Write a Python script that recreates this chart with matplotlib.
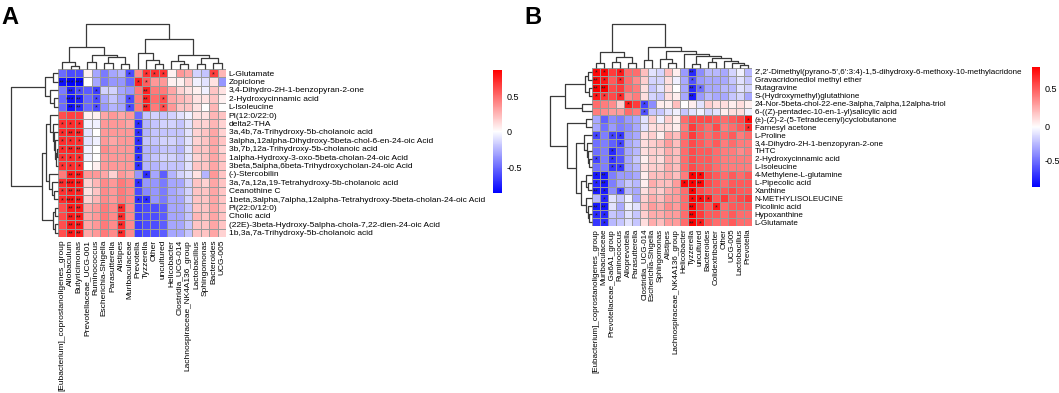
import numpy as np
import matplotlib
matplotlib.use("Agg")
import matplotlib.pyplot as plt
from matplotlib.colors import LinearSegmentedColormap, TwoSlopeNorm
from matplotlib.cm import ScalarMappable

plt.rcParams['font.family'] = ['Liberation Sans', 'DejaVu Sans']

# ---------------- data: panel A ----------------
A_rows = ["L-Glutamate", "Zopiclone", "3,4-Dihydro-2H-1-benzopyran-2-one", "2-Hydroxycinnamic acid",
          "L-Isoleucine", "PI(12:0/22:0)", "delta2-THA", "3a,4b,7a-Trihydroxy-5b-cholanoic acid",
          "3alpha,12alpha-Dihydroxy-5beta-chol-6-en-24-oic Acid", "3b,7b,12a-Trihydroxy-5b-cholanoic acid",
          "1alpha-Hydroxy-3-oxo-5beta-cholan-24-oic Acid", "3beta,5alpha,6beta-Trihydroxycholan-24-oic Acid",
          "(-)-Stercobilin", "3a,7a,12a,19-Tetrahydroxy-5b-cholanoic acid", "Ceanothine C",
          "1beta,3alpha,7alpha,12alpha-Tetrahydroxy-5beta-cholan-24-oic Acid", "PI(22:0/12:0)", "Cholic acid",
          "(22E)-3beta-Hydroxy-5alpha-chola-7,22-dien-24-oic Acid", "1b,3a,7a-Trihydroxy-5b-cholanoic acid"]
A_cols = ["[Eubacterium]_coprostanoligenes_group", "Allobaculum", "Butyricimonas", "Prevotellaceae_UCG-001",
          "Ruminococcus", "Escherichia-Shigella", "Parasutterella", "Alistipes", "Muribaculaceae", "Prevotella",
          "Tyzzerella", "Other", "uncultured", "Helicobacter", "Clostridia_UCG-014",
          "Lachnospiraceae_NK4A136_group", "Lactobacillus", "Sphingomonas", "Bacteroides", "UCG-005"]
A_vals = np.array([
    [-0.50, -0.60, -0.60, 0.05, -0.30, -0.45, -0.30, -0.25, -0.60, 0.40, 0.70, 0.70, 0.70, 0.05, 0.35, 0.30, -0.15, -0.20, 0.65, 0.25],
    [-0.80, -0.85, -0.85, 0.00, -0.30, -0.45, -0.35, -0.35, -0.50, 0.75, 0.55, 0.35, 0.35, 0.05, 0.05, 0.15, -0.05, -0.10, 0.10, -0.35],
    [-0.45, -0.75, -0.60, -0.55, -0.65, -0.15, -0.15, -0.30, -0.35, 0.45, 0.75, 0.45, 0.45, 0.30, 0.15, 0.10, 0.05, -0.05, 0.20, 0.10],
    [-0.50, -0.80, -0.75, -0.50, -0.60, -0.30, -0.20, -0.30, -0.60, 0.45, 0.75, 0.50, 0.60, 0.30, 0.25, 0.20, 0.10, 0.10, 0.20, 0.05],
    [-0.50, -0.80, -0.70, -0.50, -0.60, -0.35, -0.25, -0.30, -0.60, 0.45, 0.75, 0.45, 0.60, 0.35, 0.20, 0.20, 0.10, 0.00, 0.25, 0.00],
    [0.60, 0.65, 0.65, 0.05, 0.05, 0.30, 0.35, 0.30, 0.35, -0.50, -0.20, -0.15, -0.20, -0.15, -0.10, -0.05, 0.10, 0.10, 0.25, 0.20],
    [0.70, 0.72, 0.72, -0.05, -0.05, 0.35, 0.35, 0.35, 0.30, -0.70, -0.25, -0.20, -0.15, -0.15, -0.20, -0.10, 0.15, 0.15, 0.25, 0.15],
    [0.72, 0.75, 0.75, -0.10, 0.00, 0.35, 0.35, 0.35, 0.35, -0.70, -0.25, -0.20, -0.20, -0.20, -0.20, -0.10, 0.15, 0.20, 0.30, 0.15],
    [0.72, 0.72, 0.72, -0.10, -0.05, 0.35, 0.30, 0.35, 0.35, -0.70, -0.20, -0.20, -0.15, -0.15, -0.20, -0.10, 0.15, 0.20, 0.30, 0.20],
    [0.72, 0.75, 0.75, -0.05, 0.00, 0.40, 0.35, 0.35, 0.35, -0.70, -0.25, -0.25, -0.20, -0.20, -0.25, -0.10, 0.20, 0.20, 0.30, 0.15],
    [0.70, 0.72, 0.72, -0.05, 0.00, 0.35, 0.35, 0.35, 0.35, -0.70, -0.25, -0.20, -0.15, -0.15, -0.20, -0.10, 0.15, 0.20, 0.30, 0.20],
    [0.70, 0.72, 0.72, 0.00, 0.05, 0.35, 0.35, 0.35, 0.35, -0.70, -0.25, -0.25, -0.20, -0.20, -0.20, -0.10, 0.20, 0.20, 0.30, 0.20],
    [0.45, 0.78, 0.78, 0.35, 0.35, 0.30, 0.15, 0.35, 0.30, -0.35, -0.70, -0.30, -0.55, -0.25, -0.15, -0.10, 0.10, -0.25, 0.35, 0.20],
    [0.72, 0.80, 0.78, 0.15, 0.25, 0.40, 0.35, 0.45, 0.40, -0.70, -0.35, -0.35, -0.45, -0.30, -0.30, -0.15, 0.20, 0.15, 0.30, 0.20],
    [0.70, 0.75, 0.75, 0.10, 0.20, 0.40, 0.35, 0.45, 0.40, -0.60, -0.40, -0.35, -0.45, -0.30, -0.25, -0.15, 0.20, 0.20, 0.30, 0.20],
    [0.72, 0.80, 0.78, 0.15, 0.25, 0.40, 0.35, 0.45, 0.40, -0.70, -0.70, -0.35, -0.45, -0.30, -0.30, -0.15, 0.20, 0.20, 0.30, 0.20],
    [0.60, 0.78, 0.78, 0.30, 0.35, 0.45, 0.40, 0.72, 0.40, -0.65, -0.60, -0.60, -0.55, -0.30, -0.30, -0.20, 0.20, 0.20, 0.30, 0.20],
    [0.62, 0.78, 0.78, 0.30, 0.35, 0.45, 0.40, 0.72, 0.40, -0.65, -0.60, -0.60, -0.55, -0.30, -0.30, -0.20, 0.25, 0.20, 0.30, 0.20],
    [0.60, 0.78, 0.78, 0.30, 0.35, 0.45, 0.40, 0.72, 0.40, -0.65, -0.60, -0.60, -0.55, -0.30, -0.30, -0.20, 0.20, 0.20, 0.30, 0.20],
    [0.60, 0.78, 0.78, 0.30, 0.35, 0.45, 0.40, 0.72, 0.40, -0.65, -0.60, -0.60, -0.55, -0.30, -0.30, -0.20, 0.20, 0.20, 0.30, 0.15],
])
# significance: digit = number of stars per cell
A_sig = [
    "........1.111.....1.",
    "233......11.........",
    ".21.1.....2.........",
    ".32.1...1.2.1.......",
    ".22.1...1.2.1.......",
    "....................",
    "111......1..........",
    "122......1..........",
    "111......1..........",
    "122......1..........",
    "111......1..........",
    "111......1..........",
    ".22.......1.........",
    "232......1..........",
    "122.................",
    "132......11.........",
    ".22....2............",
    ".22....2............",
    ".22....2............",
    ".22....2............",
]
# trees: [height, left, right], leaves = index in display order
A_col_tree = [44, [22, [7, 0, [3, 1, 2]], [14, [7, 3, 4], [12, [6, 5, 6], [5, 7, 8]]]],
              [29, [16, 9, [9, 10, [5, 11, 12]]], [14, [8, 13, [5, 14, 15]], [11, [5, 16, 17], [6, 18, 19]]]]]
A_row_tree = [48, [13, [5, 0, 1], [8, 2, [4, 3, 4]]],
              [16, [12, [8, 5, [5, 6, [4, 7, [3, 8, [2, [1.5, 9, 10], 11]]]]], [9, 12, [6, 13, [4, 14, 15]]]],
               [5, [3, 16, 17], [3, 18, 19]]]]
A_range = (-0.86, 0.87)

# ---------------- data: panel B ----------------
B_rows = ["2',2'-Dimethyl(pyrano-5',6':3:4)-1,5-dihydroxy-6-methoxy-10-methylacridone",
          "Gravacridonediol methyl ether", "Rutagravine", "S-(Hydroxymethyl)glutathione",
          "24-Nor-5beta-chol-22-ene-3alpha,7alpha,12alpha-triol", "6-((Z)-pentadec-10-en-1-yl)salicylic acid",
          "(±)-(Z)-2-(5-Tetradecenyl)cyclobutanone", "Farnesyl acetone", "L-Proline",
          "3,4-Dihydro-2H-1-benzopyran-2-one", "THTC", "2-Hydroxycinnamic acid", "L-Isoleucine",
          "4-Methylene-L-glutamine", "L-Pipecolic acid", "Xanthine", "N-METHYLISOLEUCINE", "Picolinic acid",
          "Hypoxanthine", "L-Glutamate"]
B_cols = ["[Eubacterium]_coprostanoligenes_group", "Muribaculaceae", "Prevotellaceae_Ga6A1_group", "Ruminococcus",
          "Alloprevotella", "Parasutterella", "Clostridia_UCG-014", "Escherichia-Shigella", "Sphingomonas",
          "Alistipes", "Lachnospiraceae_NK4A136_group", "Helicobacter", "Tyzzerella", "uncultured", "Bacteroides",
          "Colidextribacter", "Other", "UCG-005", "Lactobacillus", "Prevotella"]
B_vals = np.array([
    [0.75, 0.75, 0.60, 0.70, 0.45, 0.45, 0.20, -0.10, -0.15, 0.20, 0.05, -0.35, -0.75, -0.40, -0.25, -0.25, -0.30, -0.15, -0.05, -0.25],
    [0.75, 0.70, 0.50, 0.65, 0.45, 0.35, 0.15, -0.15, -0.15, 0.10, -0.05, -0.30, -0.60, -0.35, -0.30, -0.30, -0.30, -0.20, -0.10, -0.20],
    [0.80, 0.80, 0.55, 0.60, 0.45, 0.40, 0.10, -0.20, -0.10, 0.10, 0.00, -0.30, -0.75, -0.50, -0.30, -0.30, -0.25, -0.25, -0.10, -0.15],
    [0.70, 0.60, 0.55, 0.65, 0.35, 0.40, 0.10, -0.15, -0.20, 0.10, 0.05, -0.30, -0.80, -0.35, -0.25, -0.30, -0.30, -0.20, -0.15, -0.30],
    [0.45, 0.40, 0.35, 0.15, 0.70, 0.60, -0.65, -0.40, 0.05, 0.05, 0.20, 0.00, 0.05, -0.10, 0.15, 0.10, 0.10, 0.05, 0.10, 0.05],
    [0.40, 0.35, 0.30, 0.30, 0.45, 0.40, -0.60, -0.20, -0.20, -0.10, -0.05, -0.20, -0.10, -0.05, -0.15, -0.10, 0.05, 0.10, 0.10, -0.05],
    [-0.30, -0.55, -0.40, -0.45, -0.35, -0.30, -0.10, 0.15, -0.05, 0.15, 0.05, 0.45, 0.55, 0.55, 0.55, 0.50, 0.45, 0.50, 0.55, 0.75],
    [-0.30, -0.50, -0.35, -0.45, -0.40, -0.30, -0.10, 0.10, 0.10, 0.10, 0.05, 0.40, 0.60, 0.50, 0.45, 0.55, 0.40, 0.45, 0.50, 0.65],
    [-0.65, -0.45, -0.65, -0.70, -0.35, -0.30, 0.10, 0.15, 0.05, 0.25, 0.20, 0.45, 0.60, 0.50, 0.45, 0.50, 0.45, 0.50, 0.40, 0.45],
    [-0.50, -0.45, -0.55, -0.65, -0.30, -0.25, 0.10, 0.15, 0.20, 0.30, 0.20, 0.45, 0.55, 0.50, 0.45, 0.50, 0.40, 0.45, 0.40, 0.40],
    [-0.50, -0.45, -0.75, -0.55, -0.30, -0.25, 0.10, 0.15, 0.15, 0.25, 0.20, 0.45, 0.55, 0.50, 0.50, 0.45, 0.40, 0.40, 0.35, 0.40],
    [-0.65, -0.45, -0.70, -0.60, -0.30, -0.20, 0.05, 0.15, 0.10, 0.25, 0.20, 0.45, 0.55, 0.50, 0.50, 0.45, 0.40, 0.40, 0.40, 0.40],
    [-0.50, -0.45, -0.70, -0.70, -0.30, -0.25, 0.10, 0.15, 0.15, 0.25, 0.20, 0.45, 0.55, 0.50, 0.50, 0.45, 0.40, 0.40, 0.40, 0.40],
    [-0.80, -0.80, -0.45, -0.35, -0.35, -0.30, 0.05, 0.20, 0.20, 0.25, 0.20, 0.40, 0.80, 0.75, 0.55, 0.50, 0.45, 0.50, 0.45, 0.50],
    [-0.75, -0.80, -0.45, -0.30, -0.20, -0.25, 0.05, 0.25, 0.20, 0.20, 0.30, 0.75, 0.80, 0.75, 0.55, 0.50, 0.45, 0.50, 0.50, 0.50],
    [-0.80, -0.80, -0.40, -0.65, -0.25, -0.30, 0.10, 0.20, 0.15, 0.25, 0.30, 0.45, 0.80, 0.55, 0.50, 0.50, 0.50, 0.55, 0.50, 0.50],
    [-0.25, -0.75, -0.10, -0.20, -0.05, -0.30, 0.15, 0.25, 0.20, 0.30, 0.30, 0.45, 0.75, 0.75, 0.70, 0.50, 0.60, 0.50, 0.55, 0.60],
    [-0.80, -0.80, -0.10, -0.30, -0.05, -0.10, 0.20, 0.30, 0.25, 0.35, 0.30, 0.45, 0.80, 0.60, 0.50, 0.70, 0.45, 0.50, 0.50, 0.50],
    [-0.75, -0.75, -0.20, -0.25, -0.10, -0.20, 0.15, 0.25, 0.25, 0.30, 0.30, 0.45, 0.80, 0.60, 0.50, 0.50, 0.45, 0.50, 0.45, 0.45],
    [-0.70, -0.75, -0.25, -0.20, -0.10, -0.20, 0.10, 0.25, 0.20, 0.30, 0.30, 0.45, 0.80, 0.70, 0.50, 0.45, 0.45, 0.50, 0.45, 0.45],
])
B_sig = [
    "11.1........2.......",
    "21.1........1.......",
    "22..........21......",
    "11.1........2.......",
    "....1.1.............",
    "......1.............",
    "...................1",
    "...................1",
    "1.11................",
    "...1................",
    "..1.................",
    "1.1.................",
    "..11................",
    "12..........11......",
    "12.........112......",
    "21.1........1.......",
    ".1..........111.....",
    "22..........2..1....",
    "11..........2.......",
    ".1..........21......",
]
B_col_tree = [43, [16, [5, 0, 1], [11, [6, 2, 3], [5, 4, 5]]],
              [21, [8, 6, 7],
               [17, [9, 8, [5, 9, 10]],
                [14, 11, [12, [4, 12, 13], [10, [6, 14, 15], [7, 16, [5, 17, [3, 18, 19]]]]]]]]]
B_row_tree = [42, [27, [7, [4, 0, 1], [3, 2, 3]], [10, 4, 5]],
              [25, [6, 6, 7], [16, [8, 8, [5, 9, [4, 10, [3, 11, 12]]]],
                               [11, [6, 13, [4, 14, 15]], [6, 16, [4, 17, [3, 18, 19]]]]]]]
B_range = (-0.89, 0.78)

# ---------------- drawing ----------------
W, H = 1059, 393
fig = plt.figure(figsize=(W / 100, H / 100), dpi=100)
cmap = LinearSegmentedColormap.from_list("bwr_ph", ["#0000FF", "#FFFFFF", "#FF0000"])


def box(x0, y0, x1, y1):
    ax = fig.add_axes([x0 / W, 1 - y1 / H, (x1 - x0) / W, (y1 - y0) / H])
    return ax


def draw_tree(ax, tree, rows):
    def walk(node):
        if isinstance(node, int):
            return node + 0.5, 0.0
        h, l, r = node
        pl, hl = walk(l)
        pr, hr = walk(r)
        p = [pl, pl, pr, pr]
        hh = [hl, h, h, hr]
        if rows:
            ax.plot(hh, p, color="#3a3a3a", lw=0.9, clip_on=False, solid_capstyle="butt")
        else:
            ax.plot(p, hh, color="#3a3a3a", lw=0.9, clip_on=False, solid_capstyle="butt")
        return (pl + pr) / 2, h
    walk(tree)
    ax.axis("off")


def panel(letter, rows, cols, vals, sig, col_tree, row_tree, vrange, hm, cb, lx, rd_w, fs):
    x0, y0, x1, y1 = hm
    nr, nc = vals.shape
    norm = TwoSlopeNorm(vmin=vrange[0], vcenter=0, vmax=vrange[1])

    ax = box(x0, y0, x1, y1)
    ax.pcolormesh(vals, cmap=cmap, norm=norm, edgecolors="#9a9a9a", linewidth=0.6)
    ax.set_xlim(0, nc)
    ax.set_ylim(nr, 0)
    for r in range(nr):
        for c in range(nc):
            ch = sig[r][c]
            if ch != ".":
                ax.text(c + 0.5, r + 0.68, "*" * int(ch), ha="center", va="center",
                        fontsize=5.2, color="#202020")
    ax.set_xticks(np.arange(nc) + 0.5)
    ax.set_xticklabels(cols, rotation=90, fontsize=fs)
    ax.yaxis.tick_right()
    ax.set_yticks(np.arange(nr) + 0.5)
    ax.set_yticklabels(rows, fontsize=fs)
    ax.tick_params(length=0, pad=2)
    for s in ax.spines.values():
        s.set_visible(False)

    tx = box(x0, 24, x1, y0)
    draw_tree(tx, col_tree, rows=False)
    tx.set_xlim(0, nc)
    tx.set_ylim(0, col_tree[0])

    ty = box(x0 - rd_w, y0, x0, y1)
    draw_tree(ty, row_tree, rows=True)
    ty.set_xlim(row_tree[0], 0)
    ty.set_ylim(nr, 0)

    cax = box(*cb)
    sm = ScalarMappable(norm=norm, cmap=cmap)
    cbar = fig.colorbar(sm, cax=cax, ticks=[-0.5, 0, 0.5])
    cbar.outline.set_visible(False)
    cbar.ax.set_yticklabels(["-0.5", "0", "0.5"], fontsize=6.5)
    cbar.ax.tick_params(length=0, pad=3)

    fig.text(lx / W, 1 - 6 / H, letter, fontsize=17, fontweight="bold", va="top", ha="left")


panel("A", A_rows, A_cols, A_vals, A_sig, A_col_tree, A_row_tree, A_range,
      (58, 69, 226, 237), (493, 70, 502, 193), 1, 47, 6.0)
panel("B", B_rows, B_cols, B_vals, B_sig, B_col_tree, B_row_tree, B_range,
      (592, 68, 752, 226), (1032, 67, 1040, 187), 524, 42, 5.8)

fig.savefig("out.png", dpi=100)
